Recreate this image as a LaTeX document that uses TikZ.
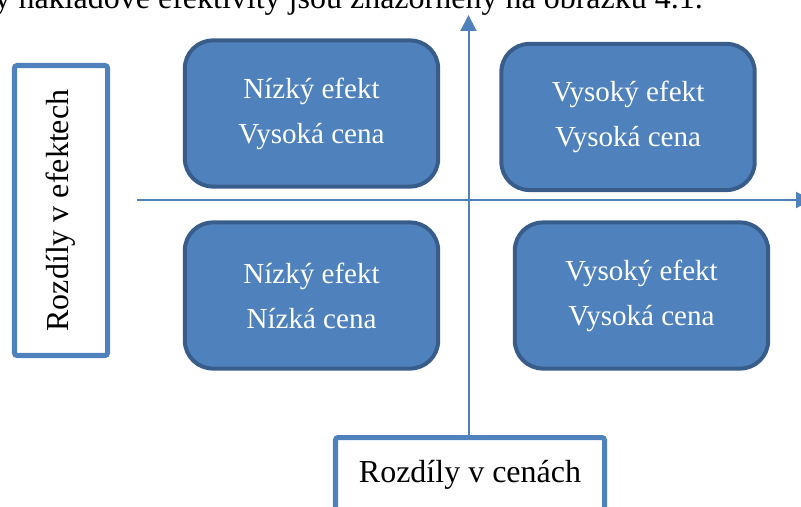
\documentclass[tikz,border=0pt]{standalone}
\usepackage{fontspec}
\setmainfont{Liberation Serif}
\usetikzlibrary{arrows.meta,positioning}

\definecolor{quadfill}{HTML}{4F81BD}
\definecolor{quaddraw}{HTML}{385D8A}

\begin{document}
\begin{tikzpicture}[x=0.375pt,y=-0.375pt,>={Triangle[length=6pt,width=6pt]},
                    node distance=118.7pt]
      \tikzstyle{quadbox}=[draw=quaddraw,fill=quadfill,line width=1.5pt,
                           rounded corners=10.5pt,minimum width=95pt,minimum height=54.8pt,
                           text=white,align=center,font=\fontsize{10.9}{16.9}\selectfont]
      \tikzstyle{axislabel}=[draw=quadfill,fill=white,line width=1.9pt,rounded corners=1pt,
                             text=black,font=\fontsize{12}{14}\selectfont]
      \tikzstyle{axisline}=[->,draw=quadfill,line width=0.75pt]

      \useasboundingbox (0,0) rectangle (801,506);
      \clip (0,0) rectangle (801,506);

      % line of the text above the figure
      \node[anchor=base west,inner sep=0pt,font=\fontsize{12}{14}\selectfont]
           (intro) at (-6,9) {y nákladové efektivity jsou znázorněny na obrázku 4.1.};

      \node[quadbox] (NV) at (311.5,113.5)          {Nízký efekt\\Vysoká cena};
      \node[quadbox] (VV) [right of=NV,yshift=-1.3pt] {Vysoký efekt\\Vysoká cena};
      \node[quadbox] (NN) [below of=NV,node distance=68.25pt] {Nízký efekt\\Nízká cena};
      \node[quadbox] (VN) [right of=NN,node distance=123.75pt] {Vysoký efekt\\Vysoká cena};

      \node[axislabel,rotate=90,minimum width=108.75pt,minimum height=34.9pt]
           (ER) at (61,210.5) {Rozdíly v efektech};
      \node[axislabel,anchor=north,inner ysep=0pt,text height=16.9pt,text depth=22.5pt,
            minimum width=100.9pt] (CR) at (470,435) {Rozdíly v cenách};

      % axes
      \coordinate (ytip)   at (468.5,15);
      \coordinate (xstart) at (137,200);
      \coordinate (xtip)   at (812,200);

      \draw[axisline] (CR.north -| ytip) -- (ytip);
      \draw[axisline] (xstart) -- (xtip);

\end{tikzpicture}
\end{document}
